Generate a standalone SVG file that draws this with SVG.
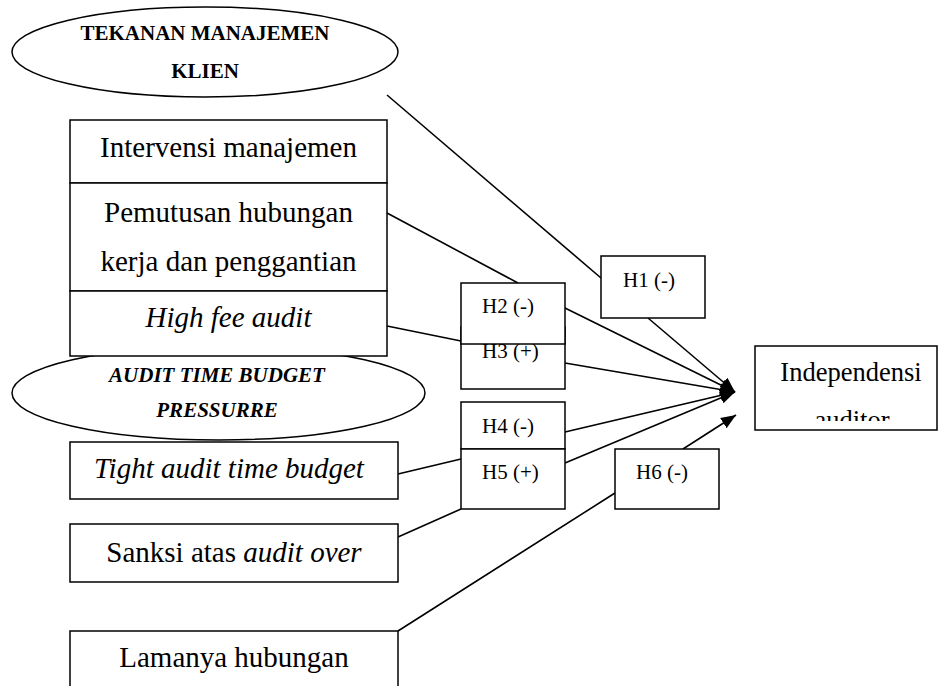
<svg xmlns="http://www.w3.org/2000/svg" width="938" height="686" viewBox="0 0 938 686">
<style>
.box{fill:#fff;stroke:#000;stroke-width:1.5}
.ell{fill:#fff;stroke:#000;stroke-width:1.5}
.ln{stroke:#000;stroke-width:1.6;fill:none}
.t{font-family:"Liberation Serif","Times New Roman",serif;fill:#000}
.big{font-size:29px;text-anchor:middle}
.h{font-size:21px}
.bold{font-size:21px;font-weight:bold;text-anchor:middle}
.it{font-style:italic}
</style>
<defs>
<marker id="arr" markerUnits="userSpaceOnUse" markerWidth="16" markerHeight="14" refX="15" refY="7" orient="auto">
<path d="M0,1 L15,7 L0,13 z" fill="#000"/>
</marker>
<clipPath id="indClip"><rect x="756" y="347" width="181" height="74"/></clipPath>
</defs>
<rect width="938" height="686" fill="#fff"/>
<g id="ellipse-tekanan">
<ellipse class="ell" cx="205" cy="52" rx="193" ry="45"/>
<text class="t bold" x="205" y="40">TEKANAN MANAJEMEN</text>
<text class="t bold" x="205" y="78">KLIEN</text>
</g>
<g id="ellipse-atbp">
<ellipse class="ell" cx="218.5" cy="393" rx="206.5" ry="47"/>
<text class="t bold it" x="217" y="382">AUDIT TIME BUDGET</text>
<text class="t bold it" x="217" y="417">PRESSURRE</text>
</g>
<g id="connectors">
<line class="ln" x1="387" y1="95" x2="601" y2="278"/>
<line class="ln" x1="648" y1="318" x2="735" y2="392" marker-end="url(#arr)"/>
<line class="ln" x1="387" y1="213" x2="518" y2="283"/>
<line class="ln" x1="565" y1="308" x2="735" y2="392" marker-end="url(#arr)"/>
<line class="ln" x1="387" y1="326" x2="461" y2="341"/>
<line class="ln" x1="565" y1="363" x2="735" y2="392" marker-end="url(#arr)"/>
<line class="ln" x1="565" y1="432" x2="735" y2="392" marker-end="url(#arr)"/>
<line class="ln" x1="398" y1="474" x2="461" y2="459"/>
<line class="ln" x1="565" y1="463" x2="735" y2="392" marker-end="url(#arr)"/>
<line class="ln" x1="398" y1="537" x2="461" y2="509"/>
<line class="ln" x1="398" y1="631" x2="615" y2="493"/>
<line class="ln" x1="683" y1="449" x2="736" y2="415" marker-end="url(#arr)"/>
</g>
<g id="box-intervensi">
<rect class="box" x="70" y="120" width="317" height="63"/>
<text class="t big" x="228.5" y="157">Intervensi manajemen</text>
</g>
<g id="box-pemutusan">
<rect class="box" x="70" y="183" width="317" height="108"/>
<text class="t big" x="228.5" y="222">Pemutusan hubungan</text>
<text class="t big" x="228.5" y="271">kerja dan penggantian</text>
</g>
<g id="box-highfee">
<rect class="box" x="70" y="291" width="317" height="65"/>
<text class="t big it" x="228.5" y="327">High fee audit</text>
</g>
<g id="box-tight">
<rect class="box" x="70" y="442" width="328" height="57"/>
<text class="t big it" x="229" y="478">Tight audit time budget</text>
</g>
<g id="box-sanksi">
<rect class="box" x="70" y="524" width="328" height="58"/>
<text class="t big" x="234" y="562">Sanksi atas <tspan class="it">audit over</tspan></text>
</g>
<g id="box-lamanya">
<rect class="box" x="70" y="631" width="328" height="70"/>
<text class="t big" x="234" y="667">Lamanya hubungan</text>
</g>
<g id="box-h3">
<rect class="box" x="461" y="327" width="104" height="62"/>
<text class="t h" x="482" y="358">H3 (+)</text>
</g>
<g id="box-h2">
<rect class="box" x="461" y="283" width="104" height="61"/>
<text class="t h" x="482" y="313">H2 (-)</text>
</g>
<g id="box-h1">
<rect class="box" x="601" y="256" width="104" height="62"/>
<text class="t h" x="623" y="287">H1 (-)</text>
</g>
<g id="box-h4">
<rect class="box" x="461" y="402" width="104" height="47"/>
<text class="t h" x="482" y="433">H4 (-)</text>
</g>
<g id="box-h5">
<rect class="box" x="461" y="449" width="104" height="60"/>
<text class="t h" x="482" y="479">H5 (+)</text>
</g>
<g id="box-h6">
<rect class="box" x="615" y="449" width="104" height="60"/>
<text class="t h" x="636" y="479">H6 (-)</text>
</g>
<g id="box-independensi">
<rect class="box" x="755" y="346" width="182" height="84"/>
<g clip-path="url(#indClip)">
<text class="t" font-size="26.5" text-anchor="middle" x="851" y="381">Independensi</text>
<text class="t" font-size="26.5" text-anchor="middle" x="852" y="429">auditor</text>
</g>
</g>
</svg>
